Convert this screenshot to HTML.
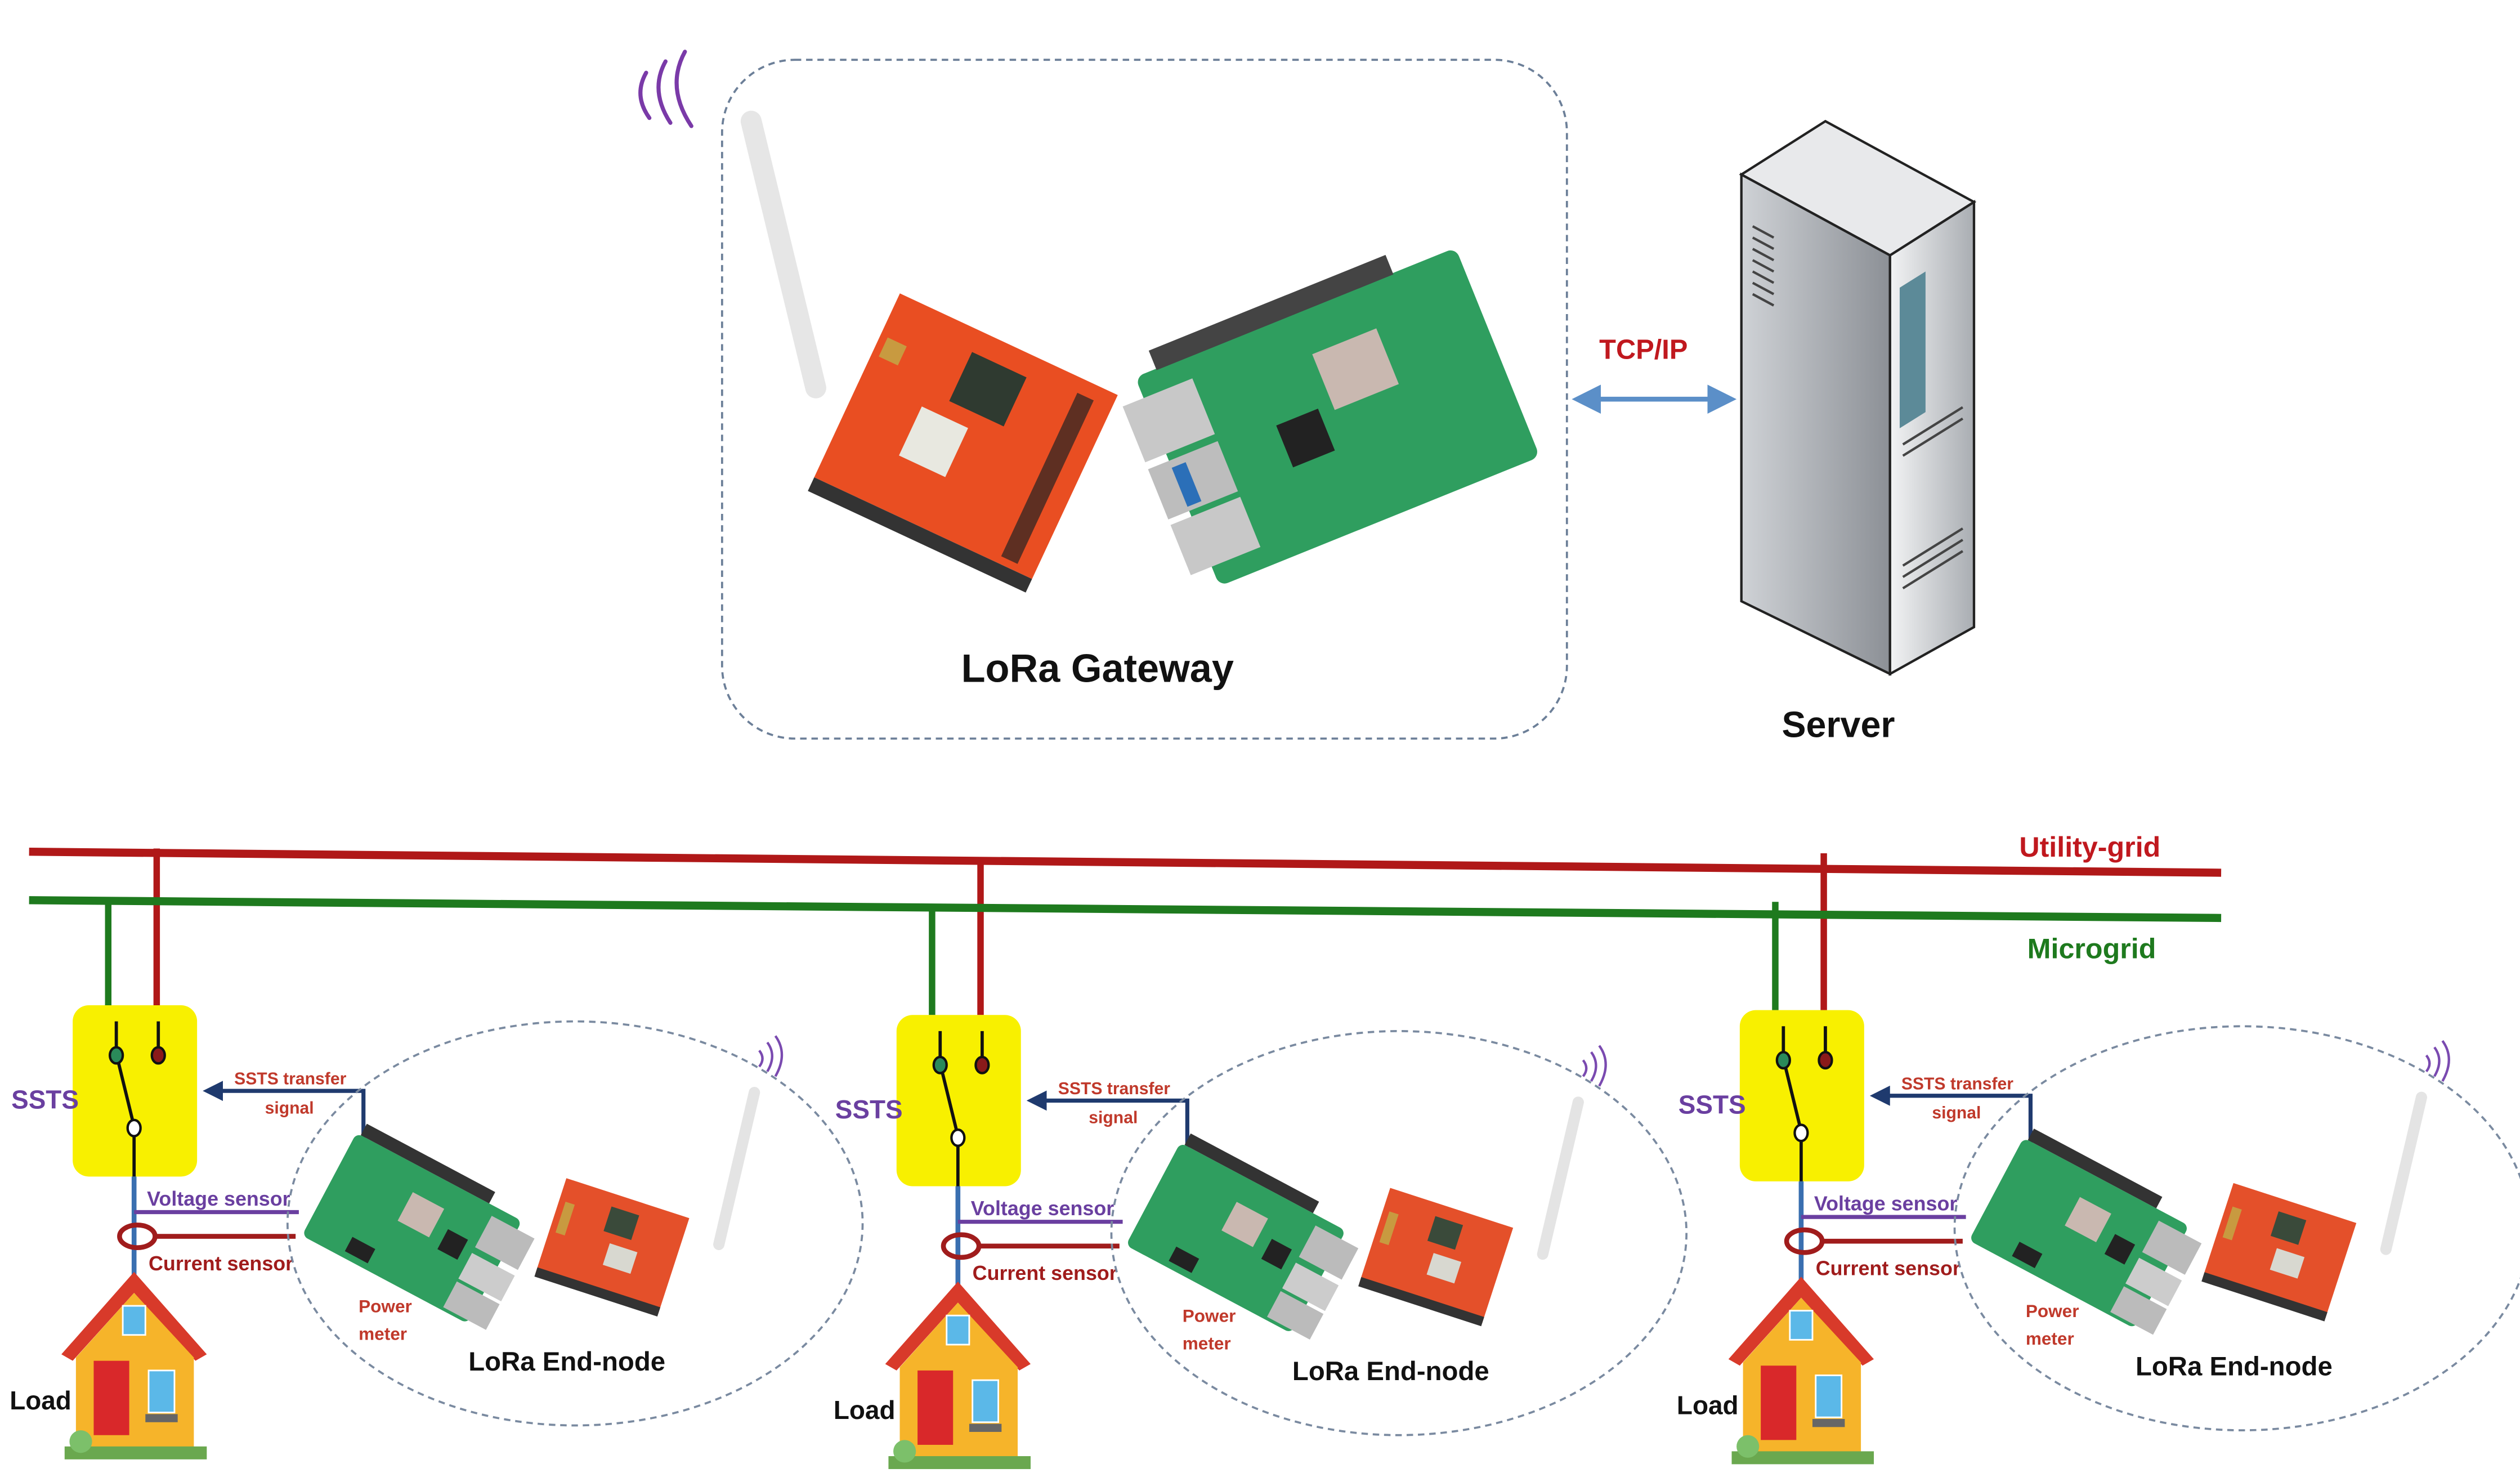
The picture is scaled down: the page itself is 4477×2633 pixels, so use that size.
<!DOCTYPE html>
<html><head><meta charset="utf-8"><style>
html,body{margin:0;padding:0;background:#fff;}
svg{display:block;}
text{font-family:"Liberation Sans",sans-serif;font-weight:bold;}
</style></head><body>
<svg width="4477" height="2633" viewBox="0 0 1560 917" preserveAspectRatio="none" xmlns="http://www.w3.org/2000/svg">
<defs>
<linearGradient id="srvL" x1="0" x2="1"><stop offset="0" stop-color="#cfd2d6"/><stop offset="1" stop-color="#8c9096"/></linearGradient>
<linearGradient id="srvR" x1="0" x2="1"><stop offset="0" stop-color="#f2f3f4"/><stop offset="1" stop-color="#a9adb2"/></linearGradient>
<marker id="ah" markerWidth="6" markerHeight="6" refX="5" refY="3" orient="auto-start-reverse"><path d="M0,0 L6,3 L0,6 z" fill="#5b8fc8"/></marker>
<marker id="ahn" markerWidth="5" markerHeight="5" refX="4" refY="2.5" orient="auto"><path d="M0,0 L5,2.5 L0,5 z" fill="#1f3a6e"/></marker>

<g id="unit">
  <line x1="67" y1="555" x2="67" y2="622" stroke="#1e7a1e" stroke-width="4"/>
  <line x1="97" y1="525" x2="97" y2="622" stroke="#b01818" stroke-width="4"/>
  <rect x="45" y="622" width="77" height="106" rx="10" fill="#f8f000"/>
  <line x1="72" y1="632" x2="72" y2="652" stroke="#111" stroke-width="2"/>
  <line x1="98" y1="632" x2="98" y2="652" stroke="#111" stroke-width="2"/>
  <line x1="72" y1="652" x2="83" y2="697" stroke="#111" stroke-width="2"/>
  <line x1="83" y1="697" x2="83" y2="728" stroke="#111" stroke-width="2"/>
  <ellipse cx="72" cy="653" rx="4" ry="5" fill="#2a8a5a" stroke="#111" stroke-width="1.5"/>
  <ellipse cx="98" cy="653" rx="4" ry="5" fill="#8a1a1a" stroke="#111" stroke-width="1.5"/>
  <ellipse cx="83" cy="698" rx="4" ry="5" fill="#fff" stroke="#111" stroke-width="1.5"/>
  <line x1="83" y1="728" x2="83" y2="792" stroke="#3a6fb0" stroke-width="3"/>
  <line x1="83" y1="750" x2="185" y2="750" stroke="#6a3fa0" stroke-width="2.5"/>
  <line x1="96" y1="765" x2="183" y2="765" stroke="#a01c1c" stroke-width="3"/>
  <ellipse cx="85" cy="765" rx="11" ry="7" fill="none" stroke="#a01c1c" stroke-width="3"/>
  <polyline points="225,715 225,675 128,675" fill="none" stroke="#1f3a6e" stroke-width="2.5" marker-end="url(#ahn)"/>
  <text x="7" y="686" font-size="16" fill="#6a3fa0">SSTS</text>
  <text x="145" y="671" font-size="10.5" fill="#c0392b">SSTS transfer</text>
  <text x="164" y="689" font-size="10.5" fill="#c0392b">signal</text>
  <text x="91" y="746" font-size="12.5" fill="#6a3fa0">Voltage sensor</text>
  <text x="92" y="786" font-size="12.5" fill="#a01c1c">Current sensor</text>
  <text x="222" y="812" font-size="11" fill="#c0392b">Power</text>
  <text x="222" y="829" font-size="11" fill="#c0392b">meter</text>
  <ellipse cx="356" cy="757" rx="178" ry="125" fill="none" stroke="#7a8aa0" stroke-width="1.3" stroke-dasharray="4,3"/>
  <g transform="translate(255,760) rotate(28)">
    <rect x="-58" y="-36" width="116" height="72" rx="4" fill="#2f9e5f"/>
    <rect x="-55" y="-44" width="90" height="8" fill="#333"/>
    <rect x="-10" y="-20" width="22" height="20" fill="#c9b8b0"/>
    <rect x="20" y="-10" width="14" height="14" fill="#222"/>
    <rect x="40" y="-30" width="30" height="22" fill="#bbb"/>
    <rect x="40" y="-4" width="30" height="18" fill="#ccc"/>
    <rect x="40" y="16" width="30" height="18" fill="#bbb"/>
    <rect x="-30" y="22" width="16" height="10" fill="#222"/>
  </g>
  <g transform="translate(380,768) rotate(18)">
    <rect x="-40" y="-28" width="80" height="62" fill="#e4502a"/>
    <rect x="-40" y="30" width="80" height="6" fill="#333"/>
    <rect x="-8" y="-20" width="18" height="16" fill="#3a4a3a"/>
    <rect x="-2" y="2" width="18" height="14" fill="#d8d8d0"/>
    <rect x="-36" y="-14" width="6" height="20" fill="#c89a40"/>
  </g>
  <line x1="467" y1="676" x2="445" y2="770" stroke="#e4e4e4" stroke-width="7" stroke-linecap="round"/>
  <path d="M470,650 q4,5 0,10 M475,645 q6,8 0,18 M480,641 q8,11 0,25" fill="none" stroke="#7a4ab0" stroke-width="1.5"/>
  <text x="290" y="848" font-size="16.5" fill="#111">LoRa End-node</text>
  <polygon points="83,787 38,838 45,842 83,800 121,842 128,838" fill="#d83a2a"/>
  <polygon points="83,800 47,840 47,900 120,900 120,840" fill="#f6b42a"/>
  <rect x="76" y="808" width="14" height="18" fill="#5bb8e8" stroke="#fff" stroke-width="1"/>
  <rect x="58" y="842" width="22" height="46" fill="#d9282a"/>
  <rect x="92" y="848" width="16" height="26" fill="#5bb8e8" stroke="#fff" stroke-width="1"/>
  <rect x="90" y="875" width="20" height="5" fill="#666"/>
  <rect x="40" y="895" width="88" height="8" fill="#6aa84f"/>
  <circle cx="50" cy="892" r="7" fill="#7cc06a"/>
  <text x="6" y="872" font-size="16" fill="#111">Load</text>
</g>
</defs>

<path d="M400,45 q-8,14 2,28 M412,38 q-10,18 3,38 M424,32 q-12,22 4,46" fill="none" stroke="#7a3aa8" stroke-width="2.5" stroke-linecap="round"/>
<rect x="447" y="37" width="523" height="420" rx="45" fill="none" stroke="#6c7f98" stroke-width="1.3" stroke-dasharray="4,3"/>
<line x1="465" y1="75" x2="505" y2="240" stroke="#e6e6e6" stroke-width="13" stroke-linecap="round"/>
<g transform="translate(597,272) rotate(25) scale(0.93)">
  <rect x="-80" y="-70" width="160" height="135" fill="#e94e22"/>
  <rect x="-80" y="65" width="160" height="10" fill="#333"/>
  <rect x="-20" y="-55" width="40" height="36" fill="#2f3a30"/>
  <rect x="-35" y="-8" width="34" height="36" fill="#e8e8e0"/>
  <rect x="55" y="-60" width="12" height="120" fill="#222" opacity=".7"/>
  <rect x="-75" y="-40" width="14" height="14" fill="#c89a40"/>
</g>
<g transform="translate(828,258) rotate(-22) scale(0.93)">
  <rect x="-115" y="-75" width="230" height="150" rx="6" fill="#2f9e5f"/>
  <rect x="-100" y="-88" width="170" height="14" fill="#444"/>
  <rect x="0" y="-45" width="46" height="40" fill="#c9b8b0"/>
  <rect x="-40" y="-10" width="30" height="30" fill="#222"/>
  <rect x="-130" y="-60" width="50" height="40" fill="#c8c8c8"/>
  <rect x="-130" y="-15" width="50" height="36" fill="#bdbdbd"/>
  <rect x="-130" y="25" width="50" height="36" fill="#c8c8c8"/>
  <rect x="-115" y="-10" width="10" height="28" fill="#2b6fb8"/>
</g>
<text x="595" y="422" font-size="24.5" fill="#111">LoRa Gateway</text>

<text x="990" y="222" font-size="17" fill="#c0181e">TCP/IP</text>
<line x1="976" y1="247" x2="1072" y2="247" stroke="#5b8fc8" stroke-width="3" marker-end="url(#ah)" marker-start="url(#ah)"/>

<polygon points="1078,108 1130,75 1222,125 1170,158" fill="#e8e9eb" stroke="#222" stroke-width="1.5"/>
<polygon points="1078,108 1170,158 1170,417 1078,372" fill="url(#srvL)" stroke="#222" stroke-width="1.5"/>
<polygon points="1170,158 1222,125 1222,388 1170,417" fill="url(#srvR)" stroke="#222" stroke-width="1.5"/>
<polygon points="1176,178 1192,168 1192,255 1176,265" fill="#5c8a98"/>
<g stroke="#444" stroke-width="1.5">
<line x1="1085" y1="140" x2="1098" y2="147"/><line x1="1085" y1="147" x2="1098" y2="154"/><line x1="1085" y1="154" x2="1098" y2="161"/><line x1="1085" y1="161" x2="1098" y2="168"/><line x1="1085" y1="168" x2="1098" y2="175"/><line x1="1085" y1="175" x2="1098" y2="182"/><line x1="1085" y1="182" x2="1098" y2="189"/>
<line x1="1178" y1="275" x2="1215" y2="252"/><line x1="1178" y1="282" x2="1215" y2="259"/>
<line x1="1178" y1="350" x2="1215" y2="327"/><line x1="1178" y1="357" x2="1215" y2="334"/><line x1="1178" y1="364" x2="1215" y2="341"/>
</g>
<text x="1103" y="456" font-size="22.5" fill="#111">Server</text>

<use href="#unit"/>
<use href="#unit" transform="translate(510,6)"/>
<use href="#unit" transform="translate(1032,3)"/>

<line x1="18" y1="527" x2="1375" y2="540" stroke="#b01818" stroke-width="5"/>
<line x1="18" y1="557" x2="1375" y2="568" stroke="#1e7a1e" stroke-width="5"/>
<text x="1250" y="530" font-size="17.5" fill="#c0181e">Utility-grid</text>
<text x="1255" y="593" font-size="17.5" fill="#1e7a1e">Microgrid</text>
</svg>
</body></html>
